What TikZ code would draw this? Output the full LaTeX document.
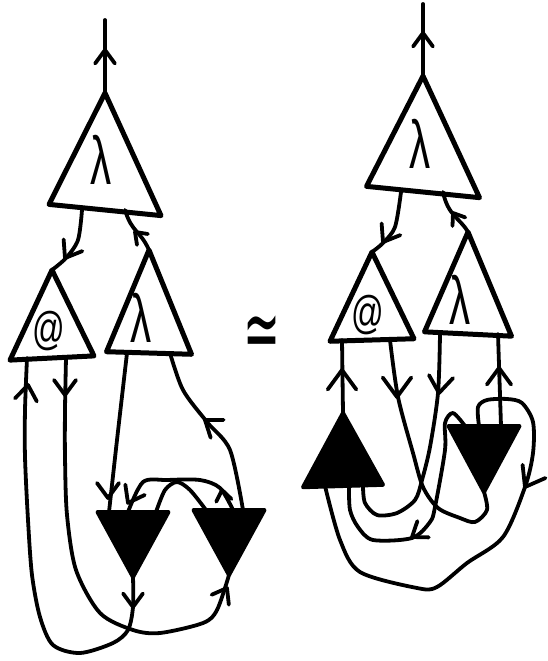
\documentclass[tikz,border=0pt]{standalone}
\usepackage{fontspec}
\setmainfont{Liberation Sans}
\newfontfamily\symfont{DejaVu Sans}
\usetikzlibrary{shapes.geometric}
\tikzset{
	opentri/.style={isosceles triangle, isosceles triangle stretches, shape border rotate=90, anchor=apex, draw=black, fill=white, line width=5pt, line join=round, inner sep=0pt, outer sep=0pt, transform shape},
	blacktri/.style={opentri, fill=black, line width=4pt},
	downtri/.style={blacktri, shape border rotate=-90},
	wire/.style={line width=3.8pt, line cap=round, line join=round},
	barb/.pic={\draw[wire] (-11,15) -- (0,0) -- (11,15);},
	lamtext/.style={font=\fontsize{68}{68}\selectfont, inner sep=0pt},
	attext/.style={font=\fontsize{46}{46}\selectfont, inner sep=0pt},
}
\begin{document}
\begin{tikzpicture}[x=1pt, y=-1pt]
	\useasboundingbox (0,0) rectangle (548,661);
	% left side
	\node[opentri, minimum width=112pt, minimum height=117pt, yslant=-0.1] (lamA) at (105,93) {};
	\node[opentri, minimum width=84pt, minimum height=88pt, yslant=0.05] (atA) at (52,270) {};
	\node[opentri, minimum width=85pt, minimum height=103pt, yslant=-0.03] (lamB) at (149,250) {};
	\node[downtri, minimum width=71pt, minimum height=65pt] (blkA) at (133,577) {};
	\node[downtri, minimum width=71pt, minimum height=65pt] (blkB) at (229,575) {};
	\node[lamtext] (lamAtxt) at (101,160) {\scalebox{0.62}[1]{λ}};
	\node[attext] (atAtxt) at (49,331) {\scalebox{0.7}[1]{@}};
	\node[lamtext] (lamBtxt) at (141,318) {\scalebox{0.62}[1]{λ}};
	% right side
	\node[opentri, minimum width=113pt, minimum height=116pt, yslant=-0.1] (lamC) at (423,76) {};
	\node[opentri, minimum width=84pt, minimum height=88pt, yslant=0.03] (atB) at (372,252) {};
	\node[opentri, minimum width=87pt, minimum height=102pt, yslant=-0.05] (lamD) at (468,232) {};
	\node[blacktri, minimum width=80pt, minimum height=73pt, yslant=0.03] (blkC) at (343,413) {};
	\node[downtri, minimum width=71pt, minimum height=66pt] (blkD) at (484,492) {};
	\node[lamtext] (lamCtxt) at (420,144) {\scalebox{0.62}[1]{λ}};
	\node[attext] (atBtxt) at (368,315) {\scalebox{0.7}[1]{@}};
	\node[lamtext] (lamDtxt) at (460,300) {\scalebox{0.62}[1]{λ}};
	\node[font=\symfont\fontsize{52}{52}\selectfont, inner sep=0pt] (simeq) at (262,338) {\scalebox{0.85}[1.7]{≃}};
	% outputs
	\coordinate (outA) at (105,20);
	\coordinate (outB) at (423,4);
	\draw[wire] (lamA.apex) -- (outA);
	\draw[wire] (lamC.apex) -- (outB);
	% left wires
	\draw[wire] plot[smooth] coordinates {([xshift=-23pt]lamA.south) (78,240) (66,258) (atA.apex)};
	\draw[wire] (lamB.apex) .. controls (140,230) and (132,233) .. ([xshift=20pt]lamA.south);
	\draw[wire] plot[smooth, tension=0.5] coordinates {(blkA.apex) (133,607) (128,630) (113,643) (80,653) (53,645) (40,617) (32,575) (28,520) (25,457) (25,410) ([xshift=-25pt]atA.south)};
	\draw[wire] plot[smooth, tension=0.5] coordinates {([xshift=14pt]atA.south) (65,410) (65,457) (67,515) (76,570) (100,613) (133,630) (160,633) (203,623) (217,610) (blkB.apex)};
	\draw[wire] plot[smooth] coordinates {([xshift=-22pt]lamB.south) (117,440) ([xshift=-24pt]blkA.north)};
	\draw[wire] plot[smooth] coordinates {([xshift=14pt]blkB.north) (230,450) (207,422) (183,390) ([xshift=21pt]lamB.south)};
	\draw[wire] plot[smooth] coordinates {([xshift=4pt]blkB.north) (220,488) (200,480) (167,480) (143,482) ([xshift=-5pt]blkA.north)};
	\draw[wire] plot[smooth] coordinates {([xshift=23pt]blkA.north) (165,490) (177,482) (190,490) ([xshift=-23pt]blkB.north)};
	% right wires
	\draw[wire] plot[smooth] coordinates {([xshift=-22pt]lamC.south) (395,227) (383,243) (atB.apex)};
	\draw[wire] (lamD.apex) .. controls (460,218) and (448,216) .. ([xshift=20pt]lamC.south);
	\draw[wire] (blkC.apex) -- ([xshift=-30pt]atB.south);
	\draw[wire] ([xshift=17pt]blkD.north) -- ([xshift=30pt]lamD.south);
	\draw[wire] plot[smooth, tension=0.5] coordinates {([xshift=18pt]atB.south) (398,397) (413,453) (423,487) (438,508) (460,518) (475,522) (487,510) (blkD.apex)};
	\draw[wire] plot[smooth, tension=0.5] coordinates {([xshift=-28pt]lamD.south) (438,393) (430,447) (422,480) (415,500) (397,513) (377,515) (365,503) ([xshift=20pt]blkC.south)};
	\draw[wire] plot[smooth, tension=0.5] coordinates {([xshift=-19pt]blkD.north) (453,413) (445,423) (445,450) (435,507) (430,522) (412,538) (373,540) (358,527) (350,510) ([xshift=6pt]blkC.south)};
	\draw[wire] plot[smooth, tension=0.5] coordinates {([xshift=-5pt]blkD.north) (478,407) (487,400) (507,399) (522,403) (533,422) (533,453) (525,487) (503,537) (467,563) (437,587) (417,588) (360,572) (340,540) ([xshift=-18pt]blkC.south)};
	% arrowheads
	\foreach \x/\y/\a/\s in {105/50/0/0.9, 423/33/0/0.9, 65/258/148/1, 135/232/45/0.7, 133/607/180/0.9, 28/385/-8/1, 65/395/180/1, 227/588/-30/0.9, 108/498/180/1, 205/420/54/1, 128/503/152/1, 222/490/10/0.7, 383/242/148/1, 453/213/34/0.7, 342/370/0/1.3, 397/397/180/1.3, 439/393/173/1.1, 412/537/125/0.9, 525/487/150/1.2, 499/368/0/1.1}{
		\pic[rotate=\a, scale=\s] at (\x,\y) {barb};
	}
\end{tikzpicture}
\end{document}
